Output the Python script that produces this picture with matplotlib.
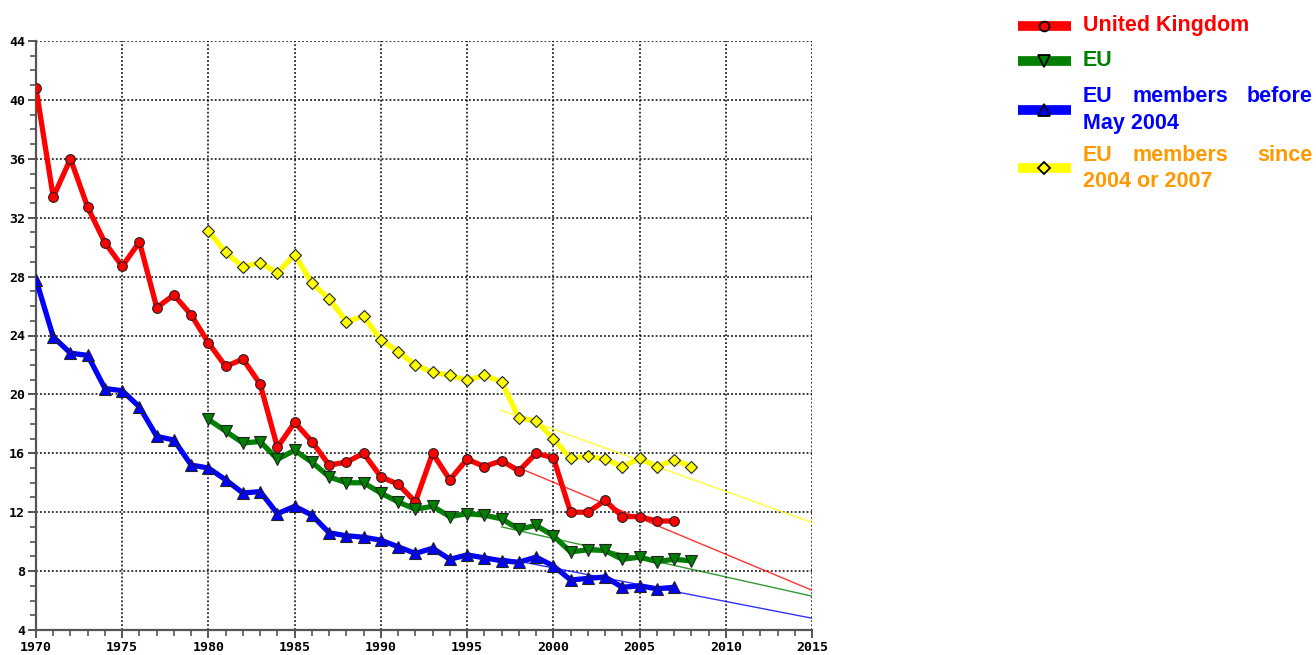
import numpy as np
import matplotlib.pyplot as plt
from matplotlib.lines import Line2D
from matplotlib.ticker import MultipleLocator

years_uk = list(range(1970, 2008))
uk = [40.8, 33.4, 36.0, 32.7, 30.3, 28.7, 30.35, 25.9, 26.75, 25.4,
      23.5, 21.9, 22.4, 20.7, 16.4, 18.1, 16.8, 15.2, 15.4, 16.0,
      14.4, 13.9, 12.7, 16.0, 14.2, 15.6, 15.1, 15.5, 14.8, 16.0,
      15.7, 12.0, 12.0, 12.8, 11.7, 11.7, 11.4, 11.4]

years_eu = list(range(1980, 2009))
eu = [18.3, 17.5, 16.7, 16.8, 15.6, 16.2, 15.4, 14.4, 14.0, 14.0,
      13.3, 12.7, 12.2, 12.4, 11.7, 11.9, 11.8, 11.55, 10.85, 11.1,
      10.4, 9.3, 9.45, 9.4, 8.8, 8.95, 8.65, 8.8, 8.7]

years_old = list(range(1970, 2008))
eu_old = [27.8, 23.9, 22.8, 22.65, 20.4, 20.25, 19.15, 17.15, 16.9, 15.2,
          15.0, 14.2, 13.3, 13.4, 11.9, 12.4, 11.8, 10.6, 10.4, 10.3,
          10.1, 9.65, 9.2, 9.55, 8.8, 9.1, 8.9, 8.7, 8.6, 8.95,
          8.35, 7.4, 7.5, 7.6, 6.9, 7.0, 6.8, 6.9]

years_new = list(range(1980, 2009))
eu_new = [31.1, 29.65, 28.65, 28.95, 28.25, 29.5, 27.55, 26.5, 24.95, 25.3,
          23.7, 22.9, 22.0, 21.5, 21.3, 20.95, 21.3, 20.85, 18.4, 18.2,
          17.0, 15.65, 15.8, 15.6, 15.1, 15.65, 15.1, 15.55, 15.1]

# trend lines 1997 -> 2015
trend_years = [1997, 2015]
trend_uk = [15.5, 6.7]
trend_eu = [11.0, 6.3]
trend_old = [8.9, 4.8]
trend_new = [18.9, 11.3]

RED, GREEN, BLUE, YELLOW = '#ff0000', '#008000', '#0000ff', '#ffff00'

fig = plt.figure(figsize=(13.16, 6.55), dpi=100)
ax = fig.add_axes([36 / 1316, 1 - 630 / 655, 776 / 1316, 589 / 655])

series = [
    (years_uk, uk, RED, 'o', 7.0, trend_uk),
    (years_eu, eu, GREEN, 'v', 9.0, trend_eu),
    (years_old, eu_old, BLUE, '^', 9.0, trend_old),
    (years_new, eu_new, YELLOW, 'D', 6.5, trend_new),
]
for xs, ys, col, mk, ms, tr in series:
    ax.plot(xs, ys, color=col, lw=3.8, zorder=3, solid_capstyle='round')
    ax.plot(trend_years, tr, color=col, lw=1.0, alpha=0.8, zorder=4)
    ax.plot(xs, ys, ls='none', marker=mk, ms=ms, mfc=col,
            mec='#222222', mew=0.8, zorder=5)

ax.set_xlim(1970, 2015)
ax.set_ylim(4, 44)
ax.xaxis.set_major_locator(MultipleLocator(5))
ax.xaxis.set_minor_locator(MultipleLocator(1))
ax.yaxis.set_major_locator(MultipleLocator(4))
ax.yaxis.set_minor_locator(MultipleLocator(1))
ax.grid(True, which='major', color='black', ls=(0, (1.2, 1.4)), lw=1.1)
for s in ('top', 'right'):
    ax.spines[s].set_visible(False)
for s in ('left', 'bottom'):
    ax.spines[s].set_color('#555555')
    ax.spines[s].set_linewidth(1.6)
ax.tick_params(which='major', length=6, width=1.4, color='#555555', pad=2)
ax.tick_params(which='minor', length=4, width=1.2, color='#555555')
for lab in ax.get_xticklabels() + ax.get_yticklabels():
    lab.set_family('DejaVu Sans Mono')
    lab.set_fontweight('bold')
    lab.set_fontsize(9.5)

# legend drawn in figure pixels
W, H = 1316, 655


def fx(px):
    return px / W


def fy(py):
    return 1 - py / H


legend_rows = [
    (26, RED, 'o', 7.0, RED, [['United Kingdom']]),
    (61, GREEN, 'v', 9.0, GREEN, [['EU']]),
    (110, BLUE, '^', 9.0, BLUE, [['EU', 'members', 'before'], ['May 2004']]),
    (168, YELLOW, 'D', 6.5, '#ff9900', [['EU', 'members', 'since'], ['2004 or 2007']]),
]
for py, col, mk, ms, tcol, lines in legend_rows:
    fig.add_artist(Line2D([fx(1018), fx(1071)], [fy(py), fy(py)], color=col,
                          lw=7, solid_capstyle='butt'))
    fig.add_artist(Line2D([fx(1044)], [fy(py)], marker=mk, ms=ms, mfc=col,
                          mec='black', mew=1.3))
    n = len(lines)
    for i, words in enumerate(lines):
        ty = py + (i - (n - 1) / 2) * 26
        kw = dict(color=tcol, fontsize=15.5, fontweight='bold',
                  family='Liberation Sans', va='center')
        if len(words) == 1:
            fig.text(fx(1083), fy(ty), words[0], ha='left', **kw)
        else:
            fig.text(fx(1083), fy(ty), words[0], ha='left', **kw)
            fig.text(fx(1180), fy(ty), words[1], ha='center', **kw)
            fig.text(fx(1312), fy(ty), words[2], ha='right', **kw)

fig.savefig('out.png', dpi=100)
